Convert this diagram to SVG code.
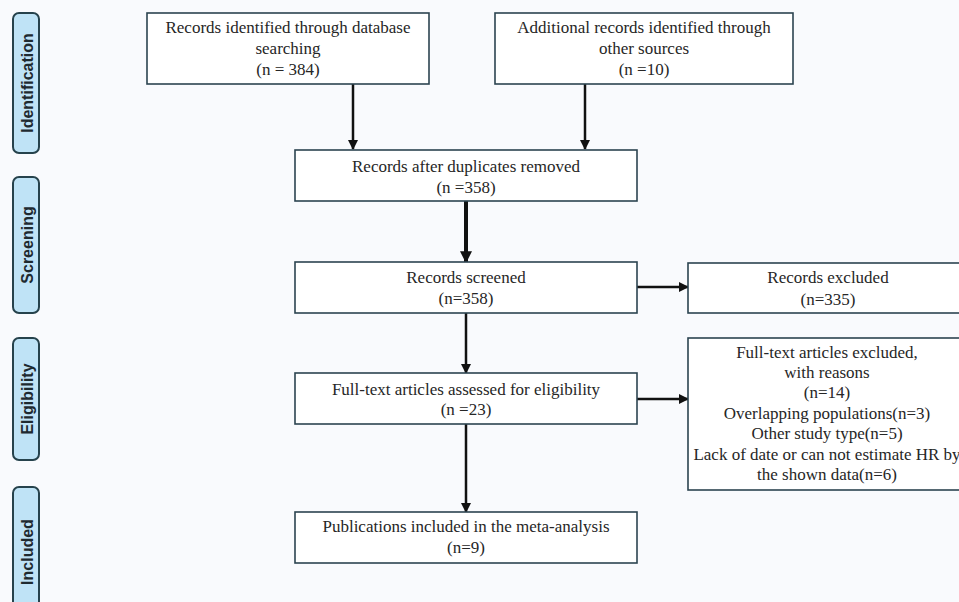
<svg xmlns="http://www.w3.org/2000/svg" width="959" height="602" viewBox="0 0 959 602">
<defs>
<marker id="ah" viewBox="0 0 10 10" refX="9" refY="5" markerWidth="4" markerHeight="4" orient="auto" markerUnits="strokeWidth">
<path d="M0,0 L10,5 L0,10 z" fill="#111"/>
</marker>
<marker id="ah2" viewBox="0 0 10 10" refX="9" refY="5" markerWidth="3" markerHeight="3" orient="auto" markerUnits="strokeWidth">
<path d="M0,0 L10,5 L0,10 z" fill="#111"/>
</marker>
<style>
.box{fill:#ffffff;stroke:#2c4450;stroke-width:1.6}
.tab{fill:#bfe3f6;stroke:#26424c;stroke-width:2}
.t{font-family:"Liberation Serif","Times New Roman",serif;font-size:17px;fill:#262626;text-anchor:middle}
.lab{font-family:"Liberation Sans",Arial,sans-serif;font-size:16px;font-weight:bold;fill:#1e2a30;text-anchor:middle;dominant-baseline:central}
.c{stroke:#111;stroke-width:2.5;fill:none}
.ck{stroke:#111;stroke-width:4;fill:none}
</style>
</defs>
<rect width="959" height="602" fill="#f9fafd"/>
<g id="tab-identification"><rect class="tab" x="13" y="13" width="26" height="140" rx="6"/><text class="lab" transform="translate(27,83) rotate(-90)">Identification</text></g>
<g id="tab-screening"><rect class="tab" x="13" y="177" width="26" height="136" rx="6"/><text class="lab" transform="translate(27,245) rotate(-90)">Screening</text></g>
<g id="tab-eligibility"><rect class="tab" x="13" y="338" width="26" height="122" rx="6"/><text class="lab" transform="translate(27,399) rotate(-90)">Eligibility</text></g>
<g id="tab-included"><rect class="tab" x="13" y="487" width="26" height="130" rx="6"/><text class="lab" transform="translate(27,552) rotate(-90)">Included</text></g>

<g id="connectors">
<line class="c" x1="353" y1="84" x2="353" y2="149" marker-end="url(#ah)"/>
<line class="c" x1="585" y1="84" x2="585" y2="149" marker-end="url(#ah)"/>
<line class="ck" x1="466" y1="201" x2="466" y2="262" marker-end="url(#ah2)"/>
<line class="c" x1="637" y1="287" x2="688" y2="287" marker-end="url(#ah)"/>
<line class="c" x1="466" y1="313" x2="466" y2="373" marker-end="url(#ah)"/>
<line class="c" x1="637" y1="399" x2="688" y2="399" marker-end="url(#ah)"/>
<line class="c" x1="466" y1="424" x2="466" y2="512" marker-end="url(#ah)"/>
</g>

<g id="n1"><rect class="box" x="147" y="13" width="282" height="71"/>
<text class="t" x="288" y="33">Records identified through database</text>
<text class="t" x="288" y="54">searching</text>
<text class="t" x="288" y="75">(n = 384)</text></g>
<g id="n2"><rect class="box" x="495" y="13" width="298" height="71"/>
<text class="t" x="644" y="33">Additional records identified through</text>
<text class="t" x="644" y="54">other sources</text>
<text class="t" x="644" y="75">(n =10)</text></g>
<g id="n3"><rect class="box" x="295" y="150" width="342" height="51"/>
<text class="t" x="466" y="172">Records after duplicates removed</text>
<text class="t" x="466" y="193">(n =358)</text></g>
<g id="n4"><rect class="box" x="295" y="262" width="342" height="51"/>
<text class="t" x="466" y="283">Records screened</text>
<text class="t" x="466" y="304">(n=358)</text></g>
<g id="n5"><rect class="box" x="688" y="263" width="275" height="50"/>
<text class="t" x="828" y="283">Records excluded</text>
<text class="t" x="828" y="305">(n=335)</text></g>
<g id="n6"><rect class="box" x="688" y="338" width="275" height="152"/>
<text class="t" x="827" y="358">Full-text articles excluded,</text>
<text class="t" x="827" y="378">with reasons</text>
<text class="t" x="827" y="398">(n=14)</text>
<text class="t" x="827" y="419">Overlapping populations(n=3)</text>
<text class="t" x="827" y="439">Other study type(n=5)</text>
<text class="t" x="827" y="460">Lack of date or can not estimate HR by</text>
<text class="t" x="827" y="480">the shown data(n=6)</text></g>
<g id="n7"><rect class="box" x="295" y="373" width="342" height="51"/>
<text class="t" x="466" y="395">Full-text articles assessed for eligibility</text>
<text class="t" x="466" y="415">(n =23)</text></g>
<g id="n8"><rect class="box" x="295" y="512" width="342" height="51"/>
<text class="t" x="466" y="532">Publications included in the meta-analysis</text>
<text class="t" x="466" y="553">(n=9)</text></g>
</svg>
